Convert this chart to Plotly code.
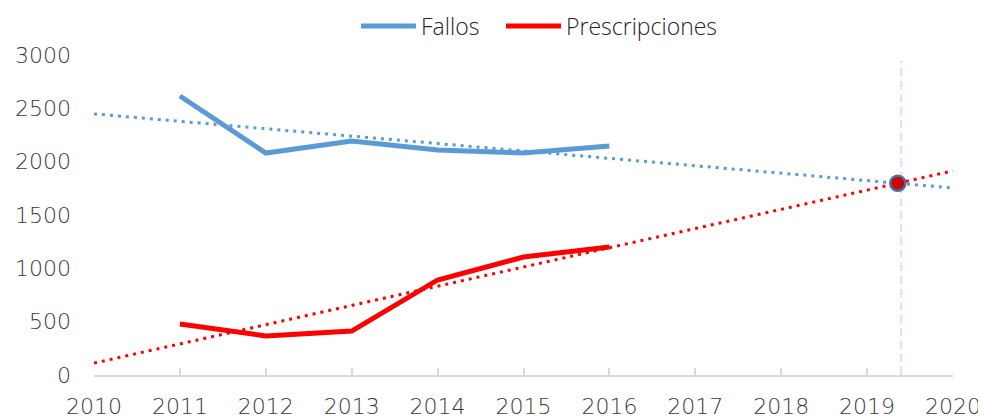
import numpy as np
import plotly.graph_objects as go

years = [2011, 2012, 2013, 2014, 2015, 2016]
fallos = [2616, 2081, 2194, 2109, 2081, 2147]
prescripciones = [478, 366, 412, 891, 1106, 1200]
x_range = [2010, 2020]
y_ticks = [0, 500, 1000, 1500, 2000, 2500, 3000]
x_ticks = list(range(2010, 2021))

BLUE = "#5b9bd5"
RED = "#ff0000"
TXT = "#262626"

# linear trendlines (least squares), extended over the axis range
pf = np.polyfit(years, fallos, 1)
pp = np.polyfit(years, prescripciones, 1)
tx = np.array(x_range, dtype=float)
xi = (pp[1] - pf[1]) / (pf[0] - pp[0])
yi = np.polyval(pf, xi)

fig = go.Figure()
fig.add_trace(go.Scatter(x=tx, y=np.polyval(pf, tx), mode="lines", showlegend=False,
                         line=dict(color=BLUE, width=3, dash="3px,5px"), hoverinfo="skip"))
fig.add_trace(go.Scatter(x=tx, y=np.polyval(pp, tx), mode="lines", showlegend=False,
                         line=dict(color=RED, width=3, dash="3px,5px"), hoverinfo="skip"))
fig.add_trace(go.Scatter(x=years, y=fallos, mode="lines", name="Fallos", legend="legend",
                         line=dict(color=BLUE, width=5)))
fig.add_trace(go.Scatter(x=years, y=prescripciones, mode="lines", name="Prescripciones",
                         legend="legend2", line=dict(color=RED, width=5)))
fig.add_trace(go.Scatter(x=[xi], y=[yi], mode="markers", showlegend=False,
                         marker=dict(color="#d00000", size=15, line=dict(color="#41719c", width=2.5))))

fig.add_shape(type="line", x0=xi + 0.04, x1=xi + 0.04, y0=0, y1=2950, xref="x", yref="y",
              line=dict(color="#d2e2f2", width=2, dash="8px,5px"), layer="below")

tickfont = dict(family="DejaVu Sans", size=22, color="#3a3a3a")
legfont = dict(size=23, color=TXT, weight=300)

# the page body adds an 8px offset, so the figure is sized/margined to compensate
fig.update_layout(
    width=978, height=410,
    margin=dict(l=86, r=33, t=47, b=43, autoexpand=False),
    paper_bgcolor="white", plot_bgcolor="white",
    font=dict(family="Open Sans", size=23, color=TXT, weight=300),
    legend=dict(orientation="h", x=348 / 978, xanchor="left", xref="container",
                y=1 - 18 / 410, yanchor="middle", yref="container",
                font=legfont, itemwidth=55),
    legend2=dict(orientation="h", x=493 / 978, xanchor="left", xref="container",
                 y=1 - 18 / 410, yanchor="middle", yref="container",
                 font=legfont, itemwidth=55),
    xaxis=dict(range=x_range, tickvals=x_ticks, showgrid=False, zeroline=False,
               showline=True, linecolor="#d9d9d9", linewidth=2,
               ticks="inside", ticklen=7, tickcolor="#d9d9d9", tickwidth=2,
               ticklabelstandoff=11, automargin=False, tickfont=tickfont),
    yaxis=dict(range=[0, 3000], tickvals=y_ticks, showgrid=False, zeroline=False,
               showline=False, ticks="", ticklabelstandoff=22, automargin=False,
               tickfont=tickfont),
)
fig.write_html("out.html")
